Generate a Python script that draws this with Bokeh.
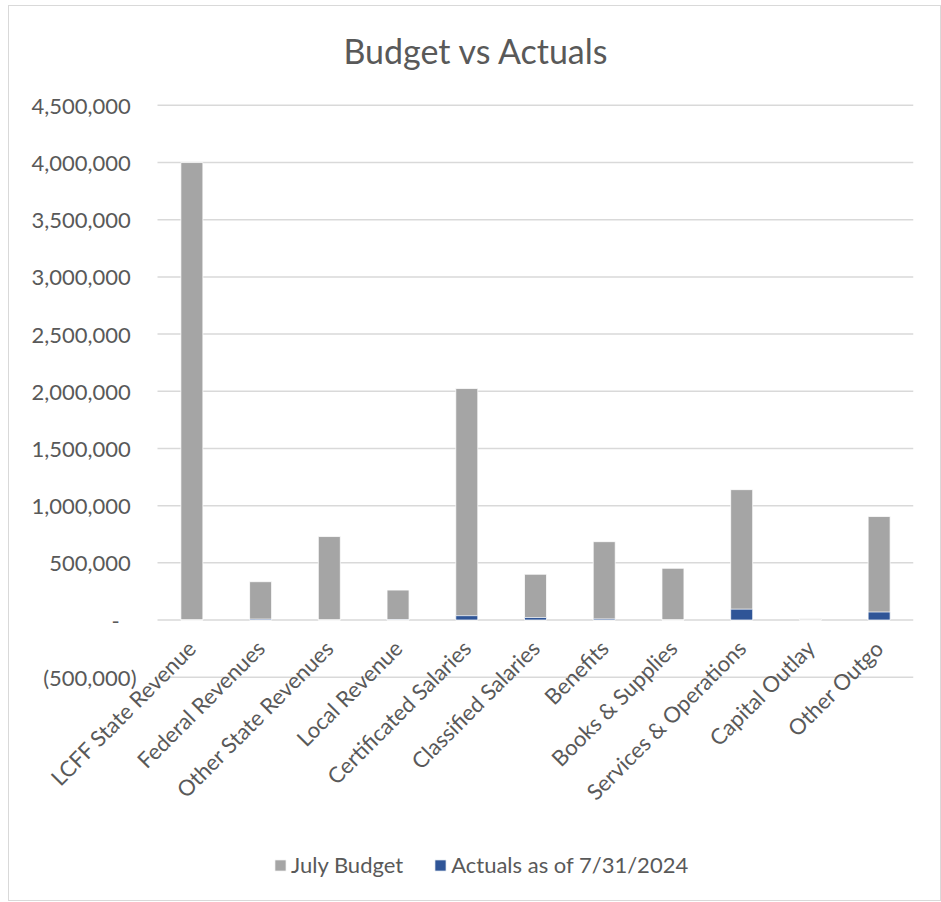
import math
from bokeh.plotting import figure
from bokeh.models import Range1d
from bokeh.core.properties import value
from bokeh.embed import file_html
from bokeh.resources import INLINE

categories = ["LCFF State Revenue", "Federal Revenues", "Other State Revenues",
              "Local Revenue", "Certificated Salaries", "Classified Salaries",
              "Benefits", "Books & Supplies", "Services & Operations",
              "Capital Outlay", "Other Outgo"]
july_budget = [4000000, 335000, 730000, 262000, 2024000, 400000,
               685000, 452000, 1140000, 12000, 905000]
actuals = [0, 8000, 0, 3000, 38000, 22000, 10000, 0, 95000, 0, 70000]

y_ticks = [-500000, 0, 500000, 1000000, 1500000, 2000000, 2500000,
           3000000, 3500000, 4000000, 4500000]
y_tick_labels = ["(500,000)", "-\u00a0\u00a0\u00a0", "500,000\u00a0", "1,000,000\u00a0",
                 "1,500,000\u00a0", "2,000,000\u00a0", "2,500,000\u00a0",
                 "3,000,000\u00a0", "3,500,000\u00a0", "4,000,000\u00a0",
                 "4,500,000\u00a0"]

FONT = "Lato"
TXT = "#595959"
GRAY = "#A5A5A5"
BLUE = "#2F5597"
GRID = "#D9D9D9"

n = len(categories)
xpos = list(range(n))          # category slots 0..n-1
left_edge = -0.5               # start of the category area
right_edge = n - 0.5           # end of the category area

# The frame covers nearly the whole chart, so that the slanted category
# labels, the value labels and the legend (all drawn inside it) are not clipped.
p = figure(x_range=Range1d(-2.508, right_edge), y_range=Range1d(-2400000, 4700000),
           width=933, height=896, output_backend="svg", toolbar_location=None,
           x_axis_type=None, y_axis_type=None,
           min_border_left=10, min_border_right=29, min_border_top=76,
           min_border_bottom=8)
p.margin = (5, 0, 0, 8)
p.styles = {"border": "1px solid #D9D9D9"}
p.outline_line_color = None
p.grid.visible = False

# horizontal gridlines at the value ticks, over the category area only
p.segment(x0=[left_edge] * len(y_ticks), x1=[right_edge] * len(y_ticks),
          y0=y_ticks, y1=y_ticks, line_color=GRID, line_width=1.5)

# value labels
p.text(x=[left_edge] * len(y_ticks), y=y_ticks, text=y_tick_labels,
       text_align="right", text_baseline="middle", x_offset=-21,
       text_font=value(FONT), text_font_size="22px", text_color=TXT)

p.vbar(x=xpos, top=july_budget, width=0.32, fill_color=GRAY,
       line_color="white", line_width=0.75, legend_label="July Budget")
p.vbar(x=xpos, top=actuals, width=0.32, fill_color=BLUE,
       line_color="white", line_width=0.75,
       legend_label="Actuals as of 7/31/2024")

# category labels hanging from the zero line
p.text(x=xpos, y=[0] * n, text=categories,
       angle=math.pi / 4, text_align="right", text_baseline="middle",
       x_offset=0, y_offset=24, text_font=value(FONT),
       text_font_size="22px", text_color=TXT)

p.title.text = "Budget vs Actuals"
p.title.align = "left"
p.title.text_font = FONT
p.title.text_font_size = "34px"
p.title.text_font_style = "normal"
p.title.text_color = TXT
p.title.offset = 324
p.title.standoff = 24

lg = p.legend[0]
lg.location = (254, 16)
lg.orientation = "horizontal"
lg.background_fill_alpha = 0
lg.border_line_color = None
lg.label_text_font = FONT
lg.label_text_font_size = "22px"
lg.label_text_color = TXT
lg.glyph_width = 14
lg.glyph_height = 14
lg.label_standoff = 4
lg.spacing = 30
lg.padding = 0
lg.margin = 0

open("out.html", "w").write(file_html(p, INLINE))
